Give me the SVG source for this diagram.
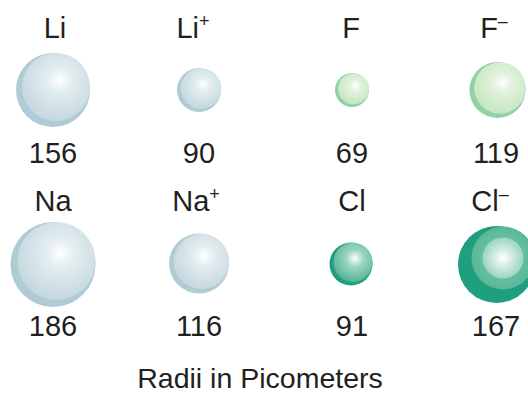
<svg xmlns="http://www.w3.org/2000/svg" width="528" height="395" viewBox="0 0 528 395">
  <defs>
    <style>
      .lbl { font-family: "Liberation Sans", Arial, sans-serif; font-size: 29px; fill: #231f20; text-anchor: middle; }
      .sup { font-size: 18px; }
      .cap { font-size: 28.5px; }
      .rim-blue { fill: #b0cbd4; }
      .rim-lime { fill: #8fd2a6; }
      .rim-teal { fill: #1f9f7e; }
    </style>
    <radialGradient id="g-blue" cx="0.55" cy="0.4" r="0.62" fx="0.55" fy="0.4">
      <stop offset="0" stop-color="#ffffff"/>
      <stop offset="0.3" stop-color="#e3edf0"/>
      <stop offset="1" stop-color="#c2d7de"/>
    </radialGradient>
    <radialGradient id="g-lime" cx="0.55" cy="0.4" r="0.62" fx="0.55" fy="0.4">
      <stop offset="0" stop-color="#ffffff"/>
      <stop offset="0.3" stop-color="#e2f2de"/>
      <stop offset="1" stop-color="#c4e5bf"/>
    </radialGradient>
    <radialGradient id="g-teal" cx="0.55" cy="0.4" r="0.62" fx="0.55" fy="0.4">
      <stop offset="0" stop-color="#ffffff"/>
      <stop offset="0.35" stop-color="#9fd5c2"/>
      <stop offset="1" stop-color="#4fb494"/>
    </radialGradient>
    <radialGradient id="g-teal-mid" cx="0.5" cy="0.5" r="0.5">
      <stop offset="0" stop-color="#7fc8b0"/>
      <stop offset="1" stop-color="#58b898"/>
    </radialGradient>
    <radialGradient id="g-teal-core" cx="0.5" cy="0.5" r="0.5">
      <stop offset="0" stop-color="#ffffff"/>
      <stop offset="0.5" stop-color="#cce9de"/>
      <stop offset="1" stop-color="#9dd4c1"/>
    </radialGradient>
  </defs>

  <!-- Row 1: lithium and fluorine -->
  <g id="li">
    <text class="lbl" x="55" y="38">Li</text>
    <circle class="rim-blue" cx="53" cy="90" r="37"/>
    <circle cx="56" cy="87" r="34" fill="url(#g-blue)"/>
    <text class="lbl" x="53" y="163">156</text>
  </g>
  <g id="li-ion">
    <text class="lbl" x="193" y="38">Li<tspan class="sup" dy="-11">+</tspan></text>
    <circle class="rim-blue" cx="199" cy="90" r="22"/>
    <circle cx="201" cy="88.5" r="20.3" fill="url(#g-blue)"/>
    <text class="lbl" x="199" y="163">90</text>
  </g>
  <g id="f">
    <text class="lbl" x="351" y="38">F</text>
    <circle class="rim-lime" cx="352" cy="90" r="17"/>
    <circle cx="353.5" cy="88.8" r="15.5" fill="url(#g-lime)"/>
    <text class="lbl" x="352" y="163">69</text>
  </g>
  <g id="f-ion">
    <text class="lbl" x="494" y="38">F<tspan class="sup" dy="-11">–</tspan></text>
    <circle class="rim-lime" cx="497.5" cy="90" r="28"/>
    <circle cx="500" cy="88" r="25.8" fill="url(#g-lime)"/>
    <text class="lbl" x="496" y="163">119</text>
  </g>

  <!-- Row 2: sodium and chlorine -->
  <g id="na">
    <text class="lbl" x="53" y="211">Na</text>
    <circle class="rim-blue" cx="53" cy="264.5" r="42.5"/>
    <circle cx="56.5" cy="261" r="39" fill="url(#g-blue)"/>
    <text class="lbl" x="53" y="336">186</text>
  </g>
  <g id="na-ion">
    <text class="lbl" x="196" y="211">Na<tspan class="sup" dy="-11">+</tspan></text>
    <circle class="rim-blue" cx="199" cy="263.5" r="30"/>
    <circle cx="201.5" cy="261.5" r="27.7" fill="url(#g-blue)"/>
    <text class="lbl" x="199" y="336">116</text>
  </g>
  <g id="cl">
    <text class="lbl" x="352" y="211">Cl</text>
    <circle class="rim-teal" cx="351" cy="264" r="21.5"/>
    <circle cx="353" cy="262.3" r="19.6" fill="url(#g-teal)"/>
    <text class="lbl" x="352" y="336">91</text>
  </g>
  <g id="cl-ion">
    <text class="lbl" x="490" y="211">Cl<tspan class="sup" dy="-11">–</tspan></text>
    <circle class="rim-teal" cx="496.5" cy="264.5" r="38.5"/>
    <circle cx="503" cy="258" r="31.5" fill="url(#g-teal-mid)"/>
    <circle cx="503" cy="258" r="20.5" fill="url(#g-teal-core)"/>
    <text class="lbl" x="496" y="336">167</text>
  </g>

  <!-- Caption -->
  <g id="caption">
    <text class="lbl cap" x="260" y="388">Radii in Picometers</text>
  </g>
</svg>
